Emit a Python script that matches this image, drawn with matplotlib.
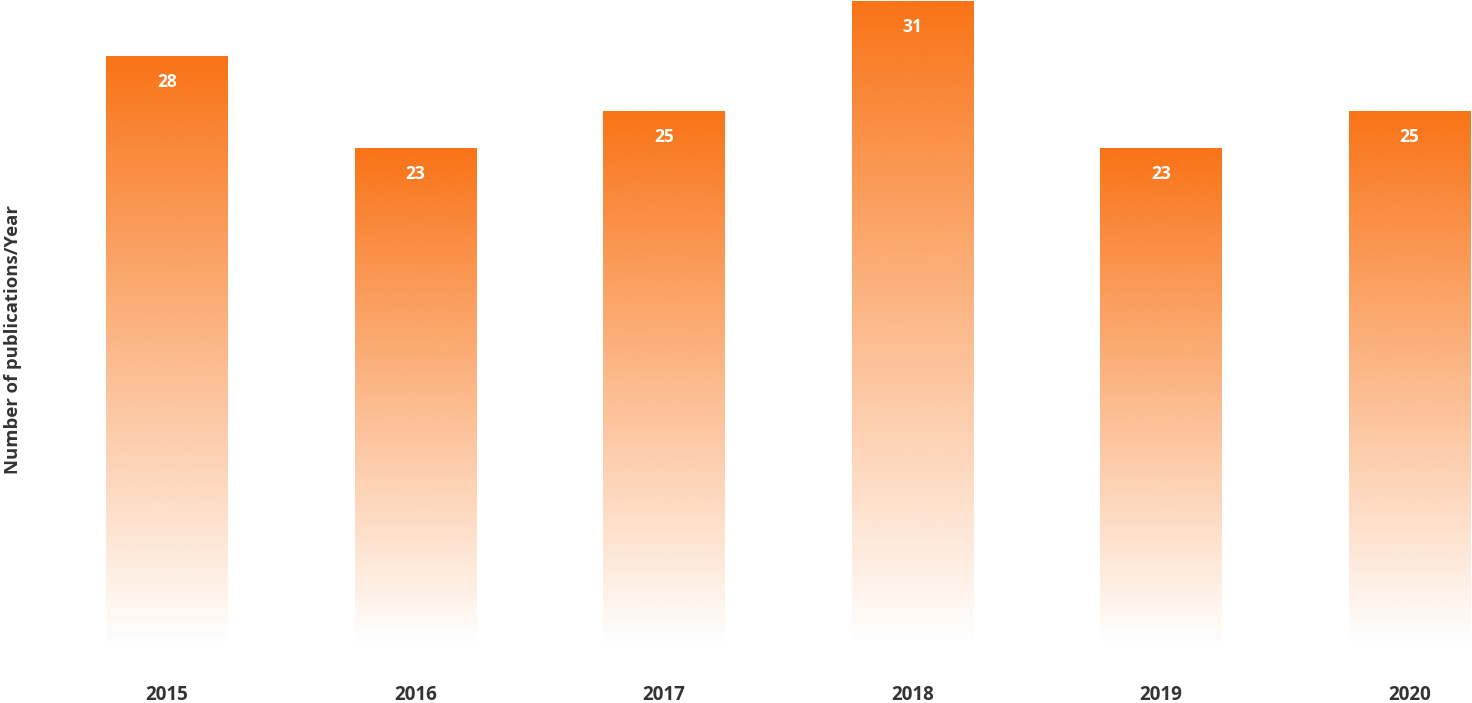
import numpy as np
import matplotlib
matplotlib.use("Agg")
import matplotlib.pyplot as plt
from matplotlib.colors import to_rgb

# ---- data ----
years = ["2015", "2016", "2017", "2018", "2019", "2020"]
publications = [28, 23, 25, 31, 23, 25]
y_label = "Number of publications/Year"

# ---- style ----
BAR_COLOR = "#F97316"
TEXT_COLOR = "#333333"
BAR_WIDTH = 0.49
BASE = -4.0  # visual baseline of the gradient bars
plt.rcParams['font.family'] = ['Open Sans', 'DejaVu Sans']

fig = plt.figure(figsize=(14.72, 7.03), dpi=100)
ax = fig.add_axes([0, 58 / 703, 1, 645 / 703])
ax.set_xlim(-0.672, 5.252)
ax.set_ylim(BASE, 31.05)
for s in ax.spines.values():
    s.set_visible(False)
ax.set_yticks([])

rgb = np.array(to_rgb(BAR_COLOR))
grad = np.zeros((256, 1, 4))
grad[:, 0, :3] = rgb
grad[:, 0, 3] = np.linspace(1.0, 0.0, 256)

x = np.arange(len(years))
bars = ax.bar(x, np.array(publications) - BASE, bottom=BASE, width=BAR_WIDTH,
              color="none", edgecolor="none")
for b, v in zip(bars, publications):
    x0 = b.get_x()
    im = ax.imshow(grad, extent=[x0, x0 + b.get_width(), BASE, v],
                   aspect="auto", interpolation="bicubic", zorder=1)
    im.set_clip_path(b)
    ax.annotate(str(v), (b.get_x() + b.get_width() / 2, v), xytext=(0, -18.5),
                textcoords="offset points", ha="center", va="center",
                color="white", fontsize=12.5, fontweight="bold", zorder=3)

ax.set_xticks(x)
ax.set_xticklabels(years, fontsize=13.5, fontweight="bold", color=TEXT_COLOR)
ax.tick_params(axis="x", length=0, pad=29)

fig.text(13 / 1472, 1 - 340 / 703, y_label, rotation=90, ha="center", va="center",
         fontsize=13.3, fontweight="bold", color=TEXT_COLOR)

fig.savefig("out.png", dpi=100)
